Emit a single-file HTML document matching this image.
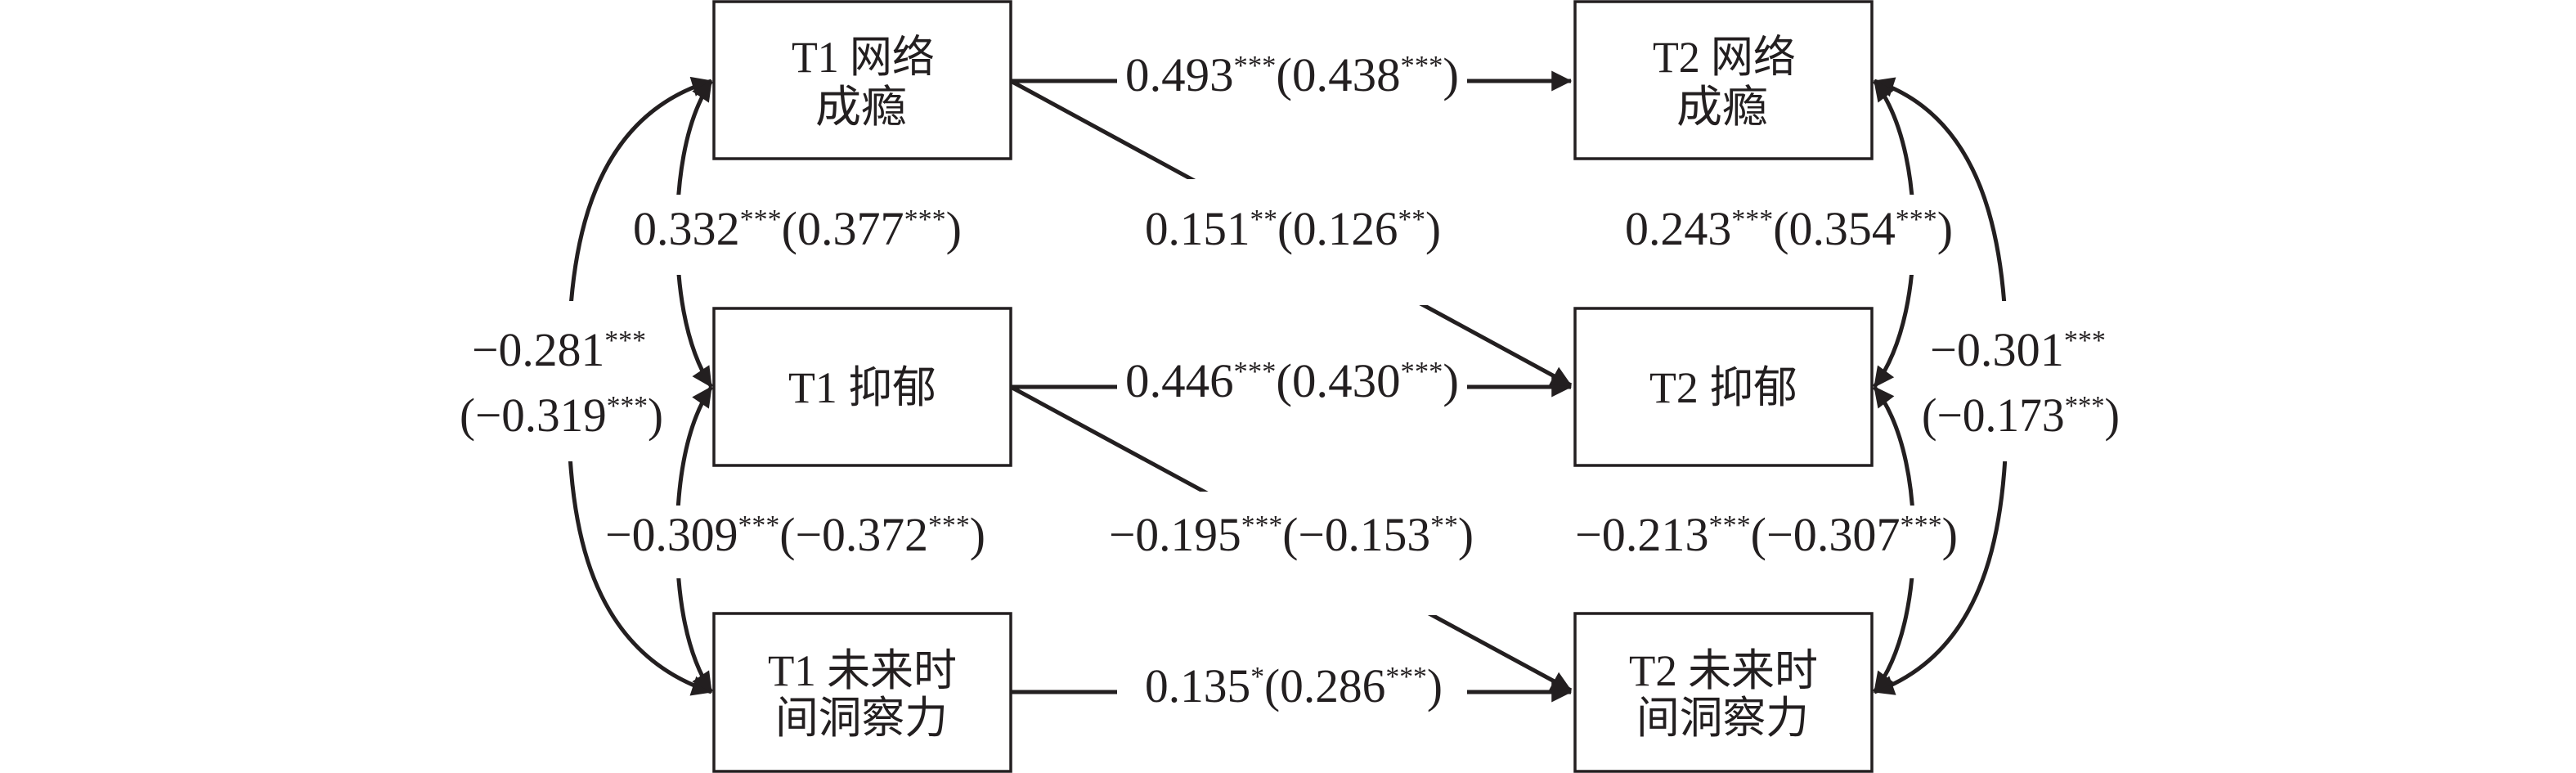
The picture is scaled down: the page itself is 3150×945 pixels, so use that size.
<!DOCTYPE html>
<html><head><meta charset="utf-8"><style>
html,body{margin:0;padding:0;background:#fff;}
svg{display:block;}
text{font-family:"Liberation Serif","Noto Serif CJK SC",serif;fill:#231f20;}
.c{font-family:"Liberation Serif","Noto Sans CJK SC",sans-serif;}
</style></head><body>
<svg width="3150" height="945" viewBox="0 0 3150 945" xmlns="http://www.w3.org/2000/svg">
<defs>
<marker id="a" viewBox="0 0 10 10" refX="9.5" refY="5" markerWidth="6.5" markerHeight="5" markerUnits="strokeWidth" orient="auto-start-reverse">
<path d="M0,0 L10,5 L0,10 z" fill="#231f20"/></marker>
</defs>
<g stroke="#231f20" stroke-width="5" fill="none">
<line x1="1236" y1="99" x2="1921" y2="99" marker-end="url(#a)"/>
<line x1="1236" y1="473" x2="1921" y2="473" marker-end="url(#a)"/>
<line x1="1236" y1="846" x2="1921" y2="846" marker-end="url(#a)"/>
<line x1="1236" y1="99" x2="1921" y2="471" marker-end="url(#a)"/>
<line x1="1236" y1="473" x2="1921" y2="844" marker-end="url(#a)"/>
<path d="M870,99 C700,150 695,350 695,472 C695,600 700,790 870,846" marker-start="url(#a)" marker-end="url(#a)"/>
<path d="M870,99 C835,150 828,230 828,286 C828,340 835,420 870,473" marker-start="url(#a)" marker-end="url(#a)"/>
<path d="M870,473 C835,524 828,604 828,660 C828,714 835,794 870,846" marker-start="url(#a)" marker-end="url(#a)"/>
<path d="M2292,99 C2449,150 2454,350 2454,472 C2454,600 2449,790 2292,846" marker-start="url(#a)" marker-end="url(#a)"/>
<path d="M2292,99 C2331,150 2340,230 2340,286 C2340,340 2331,420 2292,473" marker-start="url(#a)" marker-end="url(#a)"/>
<path d="M2292,473 C2331,524 2340,604 2340,660 C2340,714 2331,794 2292,846" marker-start="url(#a)" marker-end="url(#a)"/>
</g>
<g fill="#fff">
<rect x="1366" y="60" width="428" height="70"/>
<rect x="1366" y="440" width="428" height="70"/>
<rect x="1366" y="812" width="428" height="70"/>
<rect x="1385" y="219" width="395" height="154"/>
<rect x="1350" y="601" width="460" height="151"/>
<rect x="760" y="238" width="430" height="98"/>
<rect x="730" y="618" width="485" height="89"/>
<rect x="555" y="368" width="262" height="196"/>
<rect x="1978" y="238" width="420" height="98"/>
<rect x="1915" y="618" width="485" height="89"/>
<rect x="2353" y="368" width="250" height="196"/>
</g>
<g stroke="#231f20" stroke-width="3.5" fill="#fff">
<rect x="873" y="2" width="363" height="192"/>
<rect x="873" y="377" width="363" height="192"/>
<rect x="873" y="750" width="363" height="193"/>
<rect x="1926" y="2" width="363" height="192"/>
<rect x="1926" y="377" width="363" height="192"/>
<rect x="1926" y="750" width="363" height="193"/>
</g>
<g font-size="54">
<text class="c" x="968" y="88" textLength="175" lengthAdjust="spacingAndGlyphs">T1 网络</text>
<text class="c" x="997" y="149" textLength="112" lengthAdjust="spacingAndGlyphs">成瘾</text>
<text class="c" x="964" y="492" textLength="181" lengthAdjust="spacingAndGlyphs">T1 抑郁</text>
<text class="c" x="939" y="838" textLength="231" lengthAdjust="spacingAndGlyphs">T1 未来时</text>
<text class="c" x="948" y="896" textLength="211" lengthAdjust="spacingAndGlyphs">间洞察力</text>
<text class="c" x="2021" y="88" textLength="175" lengthAdjust="spacingAndGlyphs">T2 网络</text>
<text class="c" x="2050" y="149" textLength="112" lengthAdjust="spacingAndGlyphs">成瘾</text>
<text class="c" x="2017" y="492" textLength="181" lengthAdjust="spacingAndGlyphs">T2 抑郁</text>
<text class="c" x="1992" y="838" textLength="231" lengthAdjust="spacingAndGlyphs">T2 未来时</text>
<text class="c" x="2001" y="896" textLength="211" lengthAdjust="spacingAndGlyphs">间洞察力</text>
</g>
<g font-size="58">
<text x="1376" y="111" textLength="408" lengthAdjust="spacingAndGlyphs">0.493<tspan font-size="34" dy="-20">***</tspan><tspan dy="20">(0.438</tspan><tspan font-size="34" dy="-20">***</tspan><tspan dy="20">)</tspan></text>
<text x="1376" y="485" textLength="408" lengthAdjust="spacingAndGlyphs">0.446<tspan font-size="34" dy="-20">***</tspan><tspan dy="20">(0.430</tspan><tspan font-size="34" dy="-20">***</tspan><tspan dy="20">)</tspan></text>
<text x="1400" y="858" textLength="364" lengthAdjust="spacingAndGlyphs">0.135<tspan font-size="34" dy="-20">*</tspan><tspan dy="20">(0.286</tspan><tspan font-size="34" dy="-20">***</tspan><tspan dy="20">)</tspan></text>
<text x="1400" y="299" textLength="362" lengthAdjust="spacingAndGlyphs">0.151<tspan font-size="34" dy="-20">**</tspan><tspan dy="20">(0.126</tspan><tspan font-size="34" dy="-20">**</tspan><tspan dy="20">)</tspan></text>
<text x="1356" y="673" textLength="446" lengthAdjust="spacingAndGlyphs">−0.195<tspan font-size="34" dy="-20">***</tspan><tspan dy="20">(−0.153</tspan><tspan font-size="34" dy="-20">**</tspan><tspan dy="20">)</tspan></text>
<text x="774" y="299" textLength="402" lengthAdjust="spacingAndGlyphs">0.332<tspan font-size="34" dy="-20">***</tspan><tspan dy="20">(0.377</tspan><tspan font-size="34" dy="-20">***</tspan><tspan dy="20">)</tspan></text>
<text x="740" y="673" textLength="465" lengthAdjust="spacingAndGlyphs">−0.309<tspan font-size="34" dy="-20">***</tspan><tspan dy="20">(−0.372</tspan><tspan font-size="34" dy="-20">***</tspan><tspan dy="20">)</tspan></text>
<text x="577" y="447" textLength="213" lengthAdjust="spacingAndGlyphs">−0.281<tspan font-size="34" dy="-20">***</tspan></text>
<text x="562" y="527" textLength="249" lengthAdjust="spacingAndGlyphs">(−0.319<tspan font-size="34" dy="-20">***</tspan><tspan dy="20">)</tspan></text>
<text x="1987" y="299" textLength="401" lengthAdjust="spacingAndGlyphs">0.243<tspan font-size="34" dy="-20">***</tspan><tspan dy="20">(0.354</tspan><tspan font-size="34" dy="-20">***</tspan><tspan dy="20">)</tspan></text>
<text x="1926" y="673" textLength="468" lengthAdjust="spacingAndGlyphs">−0.213<tspan font-size="34" dy="-20">***</tspan><tspan dy="20">(−0.307</tspan><tspan font-size="34" dy="-20">***</tspan><tspan dy="20">)</tspan></text>
<text x="2360" y="447" textLength="215" lengthAdjust="spacingAndGlyphs">−0.301<tspan font-size="34" dy="-20">***</tspan></text>
<text x="2350" y="527" textLength="242" lengthAdjust="spacingAndGlyphs">(−0.173<tspan font-size="34" dy="-20">***</tspan><tspan dy="20">)</tspan></text>
</g>
</svg>
</body></html>
